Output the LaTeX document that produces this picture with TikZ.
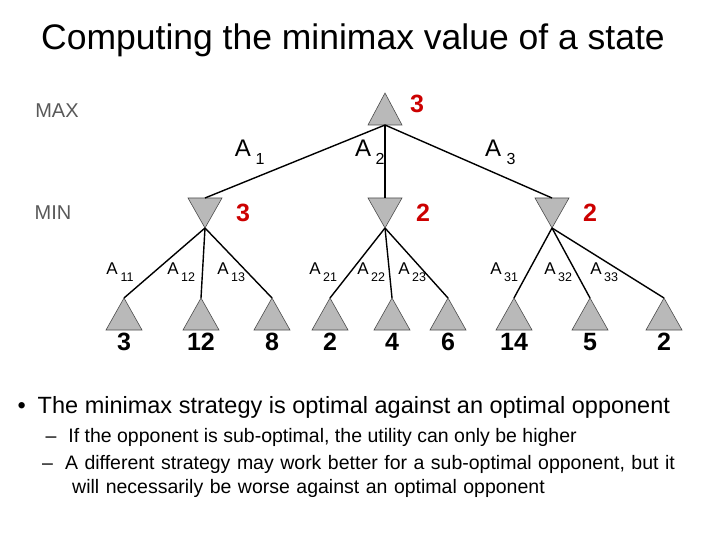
\documentclass[tikz,border=0pt]{standalone}
\usepackage{fontspec}
\setmainfont{Liberation Sans}
\begin{document}
\begin{tikzpicture}[x=1pt,y=-1pt,
  tri/.style={fill=gray!55,draw=black!70,line width=0.6pt},
  edge/.style={line width=1.4pt},
  val/.style={font=\fontsize{25}{25}\selectfont\bfseries,text=red!80!black},
  leafval/.style={font=\fontsize{25}{25}\selectfont\bfseries},
  alab/.style={font=\fontsize{24}{24}\selectfont,inner sep=0},
  blab/.style={font=\fontsize{16}{16}\selectfont,inner sep=0},
  lvl/.style={font=\fontsize{20}{20}\selectfont,text=black!65}]
\useasboundingbox (0,0) rectangle (720,540);
\node[font=\fontsize{35.5}{36}\selectfont] (title) at (353,40) {Computing the minimax value of a state};
\node[lvl] (max) at (57,111) {MAX};
\node[lvl] (min) at (53,213) {MIN};
% root
\coordinate (r) at (385,125);
\fill[tri] (385,93) -- (402,125) -- (368,125) -- cycle;
\node[val] (rv) at (417,104) {3};
% MIN nodes
\foreach \n/\x/\v in {m1/205/3,m2/385/2,m3/552/2}{
  \coordinate (\n t) at (\x,198);
  \coordinate (\n b) at (\x,228);
  \fill[tri] (\x-17,198) -- (\x+17,198) -- (\x,228) -- cycle;
  \node[val] (\n v) at (\x+38,213) {\v};
}
\draw[edge] (r) -- (m1t);
\draw[edge] (r) -- (m2t);
\draw[edge] (r) -- (m3t);
% leaves
\foreach \n/\x/\v/\p in {l1/124/3/m1,l2/201/12/m1,l3/272/8/m1,l4/330/2/m2,l5/392/4/m2,l6/448/6/m2,l7/514/14/m3,l8/590/5/m3,l9/664/2/m3}{
  \coordinate (\n) at (\x,298);
  \fill[tri] (\x,298) -- (\x+18,330) -- (\x-18,330) -- cycle;
  \node[leafval] (\n v) at (\x,342) {\v};
  \draw[edge] (\p b) -- (\n);
}
% labels
\node[alab] (a1) at (243,148) {A};\node[blab] at (260,159) {1};
\node[alab] (a2) at (363,148) {A};\node[blab] at (380,159) {2};
\node[alab] (a3) at (493,148) {A};\node[blab] at (511,159) {3};
\foreach \x/\s in {112/11,173/12,223/13,315/21,363/22,404/23,496/31,550/32,596/33}{
  \node[font=\fontsize{17}{17}\selectfont,inner sep=0] at (\x,269) {A};
  \node[font=\fontsize{12.5}{12.5}\selectfont,inner sep=0] at (\x+15,277) {\s};
}
% text
\node[anchor=west,font=\fontsize{23.5}{28}\selectfont] (b1) at (14,407) {\textbullet\hspace{12pt}The minimax strategy is optimal against an optimal opponent};
\node[anchor=west,font=\fontsize{19.5}{23}\selectfont] (b2) at (42,437) {--\hspace{12pt}If the opponent is sub-optimal, the utility can only be higher};
\node[anchor=north west,font=\fontsize{19.5}{24}\selectfont,align=left,text width=680pt,inner sep=0] (b3) at (42,455) {--\hspace{12pt}A different strategy may work better for a sub-optimal opponent, but it\\\hspace{30pt}will necessarily be worse against an optimal opponent};
\end{tikzpicture}
\end{document}
